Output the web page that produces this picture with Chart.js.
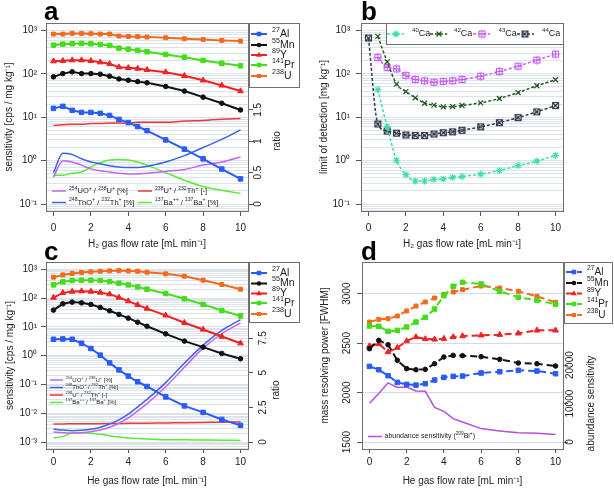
<!DOCTYPE html>
<html>
<head>
<meta charset="utf-8">
<script src="https://cdn.jsdelivr.net/npm/chart.js@4.4.0/dist/chart.umd.min.js"></script>
<style>
html, body { margin: 0; padding: 0; background: #fff; }
#wrap { position: relative; width: 614px; height: 490px; overflow: hidden; }
#wrap canvas { position: absolute; left: 0; top: 0; }
</style>
</head>
<body>
<div id="wrap">
<canvas id="ca" width="614" height="490"></canvas>
<canvas id="cb" width="614" height="490"></canvas>
<canvas id="cc" width="614" height="490"></canvas>
<canvas id="cd" width="614" height="490"></canvas>
</div>
<script>
// gas flow rates [mL/min], same for every panel
const flow = [0, 0.5, 1, 1.5, 2, 2.5, 3, 3.5, 4, 4.5, 5, 6, 7, 8, 9, 10];
const xTicks = [0, 2, 4, 6, 8, 10];

// a: H2 sensitivity [cps / mg kg-1]
const aAl = [16, 17.8, 14.4, 12.9, 12.9, 12.3, 11.0, 8.9, 7.5, 6.1, 4.9, 3.0, 1.84, 1.10, 0.64, 0.38];
const aMn = [85, 101, 111, 101, 101, 98, 88, 76, 71, 66, 62, 51, 40, 29, 21, 14.7];
const aY = [195, 199, 206, 206, 199, 185, 170, 142, 137, 132, 123, 109, 90, 71, 54, 40];
const aPr = [457, 482, 492, 500, 492, 474, 450, 390, 370, 345, 322, 279, 241, 203, 175, 153];
const aU = [822, 822, 852, 852, 838, 822, 822, 740, 726, 714, 701, 677, 642, 619, 587, 567];
// a: ratios (right axis)
const aUO = [0.43, 0.69, 0.67, 0.62, 0.56, 0.53, 0.51, 0.49, 0.48, 0.48, 0.49, 0.52, 0.55, 0.62, 0.67, 0.75];
const aThO = [0.50, 0.81, 0.79, 0.72, 0.67, 0.64, 0.61, 0.59, 0.58, 0.58, 0.60, 0.67, 0.77, 0.90, 1.03, 1.18];
const aUTh = [1.25, 1.26, 1.27, 1.27, 1.28, 1.28, 1.29, 1.29, 1.29, 1.30, 1.30, 1.30, 1.32, 1.33, 1.35, 1.36];
const aBa = [0.46, 0.46, 0.49, 0.51, 0.59, 0.66, 0.70, 0.71, 0.70, 0.67, 0.62, 0.50, 0.38, 0.28, 0.22, 0.17];

// b: limit of detection [mg kg-1]
const bCa40 = [null, 43, 6.0, 1.02, 0.475, 0.34, 0.34, 0.37, 0.38, 0.41, 0.43, 0.49, 0.59, 0.77, 0.97, 1.33];
const bCa42 = [null, 728, 189, 58, 39, 28, 21, 19, 17.3, 17.6, 18.6, 21.4, 27, 37, 53, 73];
const bCa43 = [null, 238, 140, 130, 92, 74, 69, 64, 67, 69, 74, 88, 113, 150, 207, 284];
const bCa44 = [666, 7.0, 4.8, 4.3, 3.9, 3.8, 3.8, 4.1, 4.4, 4.6, 5.0, 6.0, 7.5, 9.8, 13.3, 18.6];

// c: He sensitivity
const cAl = [3.7, 3.8, 3.7, 2.7, 1.77, 1.04, 0.56, 0.32, 0.195, 0.124, 0.085, 0.037, 0.018, 0.0107, 0.0061, 0.0038];
const cMn = [38, 63, 72, 68, 60, 47, 36, 27, 20, 14.5, 10.5, 5.7, 3.2, 1.97, 1.19, 0.78];
const cY = [104, 151, 168, 173, 168, 155, 136, 104, 78, 58, 43, 25, 13.8, 8.1, 4.6, 2.7];
const cPr = [286, 364, 405, 415, 415, 405, 373, 327, 286, 244, 202, 143, 94, 60, 37, 24];
const cU = [528, 636, 708, 766, 808, 852, 875, 899, 875, 852, 787, 689, 572, 415, 294, 202];
const cUO = [0.73, 0.68, 0.65, 0.68, 0.75, 0.87, 1.07, 1.36, 1.74, 2.25, 2.78, 4.0, 5.4, 6.78, 7.82, 8.6];
const cThO = [0.94, 0.87, 0.82, 0.85, 0.92, 1.07, 1.31, 1.60, 2.01, 2.54, 3.08, 4.29, 5.69, 7.0, 8.06, 8.84];
const cUTh = [1.31, 1.31, 1.32, 1.32, 1.33, 1.33, 1.34, 1.34, 1.35, 1.35, 1.36, 1.38, 1.40, 1.42, 1.44, 1.45];
const cBa = [0.31, 0.41, 0.65, 0.68, 0.63, 0.56, 0.46, 0.36, 0.29, 0.25, 0.22, 0.17, 0.16, 0.15, 0.14, 0.12];

// d: mass resolving power [FWHM] and abundance sensitivity
const dAl = [2265, 2231, 2171, 2103, 2083, 2076, 2090, 2127, 2154, 2164, 2167, 2198, 2211, 2225, 2218, 2191];
const dMn = [2444, 2528, 2484, 2326, 2242, 2231, 2235, 2292, 2360, 2376, 2373, 2363, 2336, 2299, 2292, 2269];
const dY = [2471, 2494, 2410, 2454, 2521, 2562, 2542, 2538, 2545, 2562, 2572, 2579, 2585, 2599, 2629, 2629];
const dPr = [2673, 2670, 2619, 2629, 2663, 2713, 2761, 2845, 2980, 3074, 3115, 3098, 3024, 2963, 2933, 2892];
const dU = [2713, 2740, 2747, 2774, 2825, 2875, 2916, 2956, 2993, 3017, 3040, 3077, 3057, 3024, 2973, 2912];
const dAbund = [10100, 12600, 15400, 14200, 14300, 13300, 13200, 9000, 8000, 6100, 5200, 3500, 2900, 2400, 2300, 2000];

const ratioTicksA = [0, 0.5, 1, 1.5];
const ratioTicksC = [0, 2.5, 5, 7.5];
const mrpTicks = [1500, 2000, 2500, 3000];
const abundTicks = [0, 10000, 20000];

const FONT = '"Liberation Sans", Arial, Helvetica, sans-serif';
const TXT = '#222';
const FRAME = '#707070';
const TICK = '#555';
const GRID = '#dbe2ec';
const C = {
    al: '#2a5cf5', mn: '#111111', y: '#f02222', pr: '#44dd1a', u: '#f26a1b',
    uo: '#c264f0', tho: '#3b62e0', uth: '#f03838', ba: '#55ee33',
    ca40: '#3fe0a8', ca42: '#1e5a1e', ca43: '#c560ee', ca44: '#2f3b4b', abund: '#b44ee6'
};

Chart.defaults.font.family = FONT;
Chart.defaults.color = TXT;

const supMap = { '-': '⁻', '0': '⁰', '1': '¹', '2': '²', '3': '³', '4': '⁴', '5': '⁵', '6': '⁶', '7': '⁷', '8': '⁸', '9': '⁹' };

function pts(arr) {
    return flow.map((x, i) => ({ x: x, y: arr[i] }));
}

// small text renderer for ^{sup} and _{sub}
function richText(ctx, s, x, y, size, color) {
    const parts = [];
    s.replace(/\^\{([^}]*)\}|_\{([^}]*)\}|([^\^_]+)/g, function(m, sup, sub, txt) {
        if (sup !== undefined) parts.push({ t: sup, f: size * 0.68, dy: -size * 0.38 });
        else if (sub !== undefined) parts.push({ t: sub, f: size * 0.68, dy: size * 0.25 });
        else parts.push({ t: txt, f: size, dy: 0 });
        return m;
    });
    ctx.fillStyle = color;
    ctx.textBaseline = 'middle';
    ctx.textAlign = 'left';
    let cx = x;
    parts.forEach(p => {
        ctx.font = p.f + 'px ' + FONT;
        ctx.fillText(p.t, cx, y + p.dy);
        cx += ctx.measureText(p.t).width;
    });
}

function vText(ctx, s, x, y, size) {
    ctx.save();
    ctx.translate(x, y);
    ctx.rotate(-Math.PI / 2);
    ctx.font = size + 'px ' + FONT;
    ctx.fillStyle = TXT;
    ctx.textAlign = 'center';
    ctx.textBaseline = 'middle';
    ctx.fillText(s, 0, 0);
    ctx.restore();
}

// square markers with plus / cross inside (pch 12 and 7)
function boxMark(color, kind) {
    const c = document.createElement('canvas');
    c.width = 9; c.height = 9;
    const g = c.getContext('2d');
    g.strokeStyle = color;
    g.lineWidth = 1.1;
    g.strokeRect(1.5, 1.5, 6, 6);
    g.beginPath();
    if (kind === 'plus') {
        g.moveTo(4.5, 0.5); g.lineTo(4.5, 8.5); g.moveTo(0.5, 4.5); g.lineTo(8.5, 4.5);
    } else {
        g.moveTo(1.5, 1.5); g.lineTo(7.5, 7.5); g.moveTo(7.5, 1.5); g.lineTo(1.5, 7.5);
    }
    g.stroke();
    return c;
}

function drawMark(ctx, style, x, y, r, color) {
    if (style instanceof HTMLCanvasElement) {
        ctx.drawImage(style, x - style.width / 2, y - style.height / 2);
        return;
    }
    ctx.save();
    ctx.fillStyle = color;
    ctx.strokeStyle = color;
    ctx.lineWidth = 1.2;
    ctx.beginPath();
    if (style === 'rect') {
        const s = r * Math.SQRT1_2;
        ctx.rect(x - s, y - s, 2 * s, 2 * s);
        ctx.fill();
    } else if (style === 'circle') {
        ctx.arc(x, y, r, 0, Math.PI * 2);
        ctx.fill();
    } else if (style === 'triangle') {
        for (let k = 0; k < 3; k++) {
            const a = k * 2 * Math.PI / 3;
            ctx.lineTo(x + Math.sin(a) * r, y - Math.cos(a) * r);
        }
        ctx.closePath();
        ctx.fill();
    } else {
        const d = r * Math.SQRT1_2;
        ctx.moveTo(x - d, y - d); ctx.lineTo(x + d, y + d);
        ctx.moveTo(x + d, y - d); ctx.lineTo(x - d, y + d);
        if (style === 'star') {
            ctx.moveTo(x, y - r); ctx.lineTo(x, y + r);
            ctx.moveTo(x - r, y); ctx.lineTo(x + r, y);
        }
        ctx.stroke();
    }
    ctx.restore();
}

function legendBox(ctx, x1, y1, x2, y2) {
    ctx.fillStyle = '#fff';
    ctx.fillRect(x1, y1, x2 - x1, y2 - y1);
    ctx.strokeStyle = FRAME;
    ctx.lineWidth = 1;
    ctx.strokeRect(x1 + 0.5, y1 + 0.5, x2 - x1, y2 - y1);
}

function legendItem(ctx, ds, x1, x2, y, tx, size, mx) {
    ctx.save();
    ctx.strokeStyle = ds.borderColor;
    ctx.lineWidth = ds.borderWidth;
    ctx.setLineDash(ds.borderDash || []);
    ctx.beginPath();
    ctx.moveTo(x1, y);
    ctx.lineTo(x2, y);
    ctx.stroke();
    ctx.setLineDash([]);
    if (ds.pointRadius > 0) {
        drawMark(ctx, ds.pointStyle, mx !== undefined ? mx : (x1 + x2) / 2, y, ds.pointRadius, ds.borderColor);
    }
    ctx.restore();
    richText(ctx, ds.legendText, tx, y, size, TXT);
}

function mainSet(label, rich, arr, color, style, r, extra) {
    return Object.assign({
        label: label,
        legendText: rich,
        data: pts(arr),
        yAxisID: 'y',
        borderColor: color,
        backgroundColor: color,
        pointBackgroundColor: color,
        pointBorderColor: color,
        pointStyle: style,
        pointRadius: r,
        pointBorderWidth: 1,
        borderWidth: 2,
        tension: 0
    }, extra || {});
}

function ratioSet(label, rich, arr, color) {
    return {
        label: label,
        legendText: rich,
        data: pts(arr),
        yAxisID: 'y1',
        borderColor: color,
        backgroundColor: color,
        pointRadius: 0,
        borderWidth: 1.5,
        cubicInterpolationMode: 'monotone'
    };
}

function decLabel(v) {
    const e = Math.log10(v);
    if (Math.abs(e - Math.round(e)) > 1e-9) return '';
    return '10' + String(Math.round(e)).split('').map(ch => supMap[ch]).join('');
}

function logTicks(min, max) {
    const out = [];
    for (let e = Math.floor(Math.log10(min)); e <= Math.ceil(Math.log10(max)); e++) {
        for (let m = 1; m <= 9; m++) {
            const v = m * Math.pow(10, e);
            if (v >= min && v <= max) out.push({ value: v, major: m === 1 });
        }
    }
    return out;
}

function xScale(o) {
    return {
        type: 'linear',
        min: -0.4,
        max: 10.4,
        afterBuildTicks: s => { s.ticks = xTicks.map(v => ({ value: v })); },
        afterFit: s => { s.height = o.h; },
        ticks: { autoSkip: false, maxRotation: 0, padding: o.pad, color: TXT, font: { size: 10 } },
        grid: { drawOnChartArea: false, tickLength: o.tl, tickColor: TICK },
        border: { display: false },
        title: { display: true, text: o.title, color: TXT, font: { size: 10 }, padding: { top: 0, bottom: 0 } }
    };
}

function logScale(o) {
    return {
        type: 'logarithmic',
        position: 'left',
        min: Math.pow(10, o.lo),
        max: Math.pow(10, o.hi),
        afterBuildTicks: s => { s.ticks = logTicks(s.min, s.max); },
        afterFit: s => { s.width = o.w; },
        ticks: { autoSkip: false, padding: o.pad, color: TXT, font: { size: 10 }, callback: v => decLabel(v) },
        grid: {
            color: GRID,
            tickLength: 5,
            tickColor: c => (c.tick && c.tick.major) ? TICK : 'rgba(0,0,0,0)'
        },
        border: { display: false },
        title: { display: true, text: o.title, color: TXT, font: { size: 10 }, padding: { top: o.tp, bottom: 0 } }
    };
}

function sideScale(o) {
    return {
        type: 'linear',
        position: o.pos,
        min: o.min,
        max: o.max,
        afterBuildTicks: s => { s.ticks = o.ticks.map(v => ({ value: v })); },
        afterFit: s => { s.width = o.w; },
        ticks: { display: false },
        grid: { drawOnChartArea: !!o.grid, color: '#cfdaee', tickLength: 5, tickColor: TICK },
        border: { display: false },
        title: o.title ? { display: true, text: o.title, color: TXT, font: { size: 10 }, padding: { top: o.tp, bottom: 0 } } : { display: false }
    };
}

// frame, panel letter, rotated axis labels and legends
function deco(o) {
    return {
        id: 'deco',
        afterDraw(chart) {
            const ctx = chart.ctx;
            const a = chart.chartArea;
            ctx.save();
            ctx.strokeStyle = FRAME;
            ctx.lineWidth = 1;
            ctx.strokeRect(Math.round(a.left) + 0.5, Math.round(a.top) + 0.5, Math.round(a.right - a.left), Math.round(a.bottom - a.top));
            ctx.fillStyle = '#000';
            ctx.font = 'bold 26px ' + FONT;
            ctx.textAlign = 'left';
            ctx.textBaseline = 'alphabetic';
            ctx.fillText(o.letter, o.lx, o.ly);
            (o.rot || []).forEach(r => {
                const sc = chart.scales[r.axis];
                const ys = r.values.map(v => sc.getPixelForValue(v));
                r.values.forEach((v, i) => vText(ctx, String(v), r.x, ys[i], 10));
                if (r.title) {
                    const ty = r.ty !== undefined ? r.ty : (Math.min.apply(null, ys) + Math.max.apply(null, ys)) / 2;
                    vText(ctx, r.title, r.tx, ty, 10);
                }
            });
            if (o.legend) o.legend(ctx, chart.data.datasets);
            ctx.restore();
        }
    };
}

function baseOptions(pad) {
    return {
        responsive: false,
        animation: false,
        devicePixelRatio: 1,
        events: [],
        layout: { padding: pad },
        plugins: { legend: { display: false }, tooltip: { enabled: false } }
    };
}

function rightBox(ctx, ds, x1, x2, top, bottom, rows, size) {
    legendBox(ctx, x1, top, x2, bottom);
    for (let i = 0; i < 5; i++) legendItem(ctx, ds[i], x1 + 2, x1 + 18, top + rows[i], x1 + 23, size);
}

// ---------- panel a ----------
new Chart(document.getElementById('ca'), {
    type: 'line',
    data: {
        datasets: [
            mainSet('²⁷Al', '^{27}Al', aAl, C.al, 'rect', 3.2),
            mainSet('⁵⁵Mn', '^{55}Mn', aMn, C.mn, 'circle', 2.3),
            mainSet('⁸⁹Y', '^{89}Y', aY, C.y, 'triangle', 3.3),
            mainSet('¹⁴¹Pr', '^{141}Pr', aPr, C.pr, 'rect', 3.2),
            mainSet('²³⁸U', '^{238}U', aU, C.u, 'rect', 2.8),
            ratioSet('²⁵⁴UO⁺ / ²³⁸U⁺ [%]', '^{254}UO^{+} / ^{238}U^{+} [%]', aUO, C.uo),
            ratioSet('²⁴⁸ThO⁺ / ²³²Th⁺ [%]', '^{248}ThO^{+} / ^{232}Th^{+} [%]', aThO, C.tho),
            ratioSet('²³⁸U⁺ / ²³²Th⁺ [-]', '^{238}U^{+} / ^{232}Th^{+} [-]', aUTh, C.uth),
            ratioSet('¹³⁷Ba⁺⁺ / ¹³⁷Ba⁺ [%]', '^{137}Ba^{++} / ^{137}Ba^{+} [%]', aBa, C.ba)
        ]
    },
    options: Object.assign(baseOptions({ left: 0, top: 23, right: 326, bottom: 240 }), {
        scales: {
            x: xScale({ h: 39, tl: 5, pad: 6, title: 'H₂ gas flow rate [mL min⁻¹]' }),
            y: logScale({ lo: -1.16, hi: 3.17, w: 46, pad: 4, tp: 3.5, title: 'sensitivity [cps / mg kg⁻¹]' }),
            y1: sideScale({ pos: 'right', min: -0.11, max: 2.88, ticks: ratioTicksA, w: 40 })
        }
    }),
    plugins: [deco({
        letter: 'a', lx: 44, ly: 20,
        rot: [{ axis: 'y1', values: ratioTicksA, x: 258, title: 'ratio', tx: 277, ty: 141 }],
        legend: (ctx, ds) => {
            rightBox(ctx, ds, 249, 299, 23, 87, [11, 22, 32, 42, 53], 10.5);
            legendItem(ctx, ds[5], 52, 66, 191, 69, 7.5);
            legendItem(ctx, ds[6], 52, 66, 202.5, 69, 7.5);
            legendItem(ctx, ds[7], 138, 152, 191, 155, 7.5);
            legendItem(ctx, ds[8], 138, 152, 202.5, 155, 7.5);
        }
    })]
});

// ---------- panel b ----------
const mark43 = boxMark(C.ca43, 'plus');
const mark44 = boxMark(C.ca44, 'cross');
function caSet(label, rich, arr, color, style, r) {
    return mainSet(label, rich, arr, color, style, r, {
        borderWidth: 1.5, borderDash: [3, 2], pointBorderWidth: 1.2, cubicInterpolationMode: 'monotone'
    });
}
new Chart(document.getElementById('cb'), {
    type: 'line',
    data: {
        datasets: [
            caSet('⁴⁰Ca', '^{40}Ca', bCa40, C.ca40, 'star', 3.5),
            caSet('⁴²Ca', '^{42}Ca', bCa42, C.ca42, 'crossRot', 3.5),
            caSet('⁴³Ca', '^{43}Ca', bCa43, C.ca43, mark43, 4),
            caSet('⁴⁴Ca', '^{44}Ca', bCa44, C.ca44, mark44, 4)
        ]
    },
    options: Object.assign(baseOptions({ left: 300, top: 23, right: 51, bottom: 240 }), {
        scales: {
            x: xScale({ h: 39, tl: 5, pad: 6, title: 'H₂ gas flow rate [mL min⁻¹]' }),
            y: logScale({ lo: -1.16, hi: 3.17, w: 61, pad: 6, tp: 18, title: 'limit of detection [mg kg⁻¹]' })
        }
    }),
    plugins: [deco({
        letter: 'b', lx: 361, ly: 20,
        legend: (ctx, ds) => {
            legendBox(ctx, 386, 23, 563, 44);
            legendItem(ctx, ds[0], 387, 404, 34, 412, 9, 396);
            legendItem(ctx, ds[1], 430, 447, 34, 454, 9, 439);
            legendItem(ctx, ds[2], 473, 490, 34, 498.5, 9, 482);
            legendItem(ctx, ds[3], 517, 534, 34, 542, 9, 525);
        }
    })]
});

// ---------- panel c ----------
new Chart(document.getElementById('cc'), {
    type: 'line',
    data: {
        datasets: [
            mainSet('²⁷Al', '^{27}Al', cAl, C.al, 'rect', 3.2),
            mainSet('⁵⁵Mn', '^{55}Mn', cMn, C.mn, 'circle', 2.3),
            mainSet('⁸⁹Y', '^{89}Y', cY, C.y, 'triangle', 3.3),
            mainSet('¹⁴¹Pr', '^{141}Pr', cPr, C.pr, 'rect', 3.2),
            mainSet('²³⁸U', '^{238}U', cU, C.u, 'rect', 2.8),
            ratioSet('²⁵⁴UO⁺ / ²³⁸U⁺ [%]', '^{254}UO^{+} / ^{238}U^{+} [%]', cUO, C.uo),
            ratioSet('²⁴⁸ThO⁺ / ²³²Th⁺ [%]', '^{248}ThO^{+} / ^{232}Th^{+} [%]', cThO, C.tho),
            ratioSet('²³⁸U⁺ / ²³²Th⁺ [-]', '^{238}U^{+} / ^{232}Th^{+} [-]', cUTh, C.uth),
            ratioSet('¹³⁷Ba⁺⁺ / ¹³⁷Ba⁺ [%]', '^{137}Ba^{++} / ^{137}Ba^{+} [%]', cBa, C.ba)
        ]
    },
    options: Object.assign(baseOptions({ left: 0, top: 262, right: 326, bottom: 3 }), {
        scales: {
            x: xScale({ h: 38, tl: 4, pad: 3, title: 'He gas flow rate [mL min⁻¹]' }),
            y: logScale({ lo: -3.24, hi: 3.25, w: 46, pad: 4, tp: 4, title: 'sensitivity [cps / mg kg⁻¹]' }),
            y1: sideScale({ pos: 'right', min: -0.5, max: 13.0, ticks: ratioTicksC, w: 40 })
        }
    }),
    plugins: [deco({
        letter: 'c', lx: 44, ly: 260,
        rot: [{ axis: 'y1', values: ratioTicksC, x: 263, title: 'ratio', tx: 276 }],
        legend: (ctx, ds) => {
            rightBox(ctx, ds, 249, 299, 262, 322, [11, 21.5, 31.5, 41, 52], 10.5);
            legendItem(ctx, ds[5], 50, 63, 380, 65.5, 6);
            legendItem(ctx, ds[6], 50, 63, 387.5, 65.5, 6);
            legendItem(ctx, ds[7], 50, 63, 395, 65.5, 6);
            legendItem(ctx, ds[8], 50, 63, 402.5, 65.5, 6);
        }
    })]
});

// ---------- panel d ----------
function mrpSet(label, rich, arr, color, style, r) {
    return mainSet(label, rich, arr, color, style, r, { borderDash: [7, 4] });
}
new Chart(document.getElementById('cd'), {
    type: 'line',
    data: {
        datasets: [
            mrpSet('²⁷Al', '^{27}Al', dAl, C.al, 'rect', 3.2),
            mrpSet('⁵⁵Mn', '^{55}Mn', dMn, C.mn, 'circle', 2.3),
            mrpSet('⁸⁹Y', '^{89}Y', dY, C.y, 'triangle', 3.3),
            mrpSet('¹⁴¹Pr', '^{141}Pr', dPr, C.pr, 'rect', 3.2),
            mrpSet('²³⁸U', '^{238}U', dU, C.u, 'rect', 2.8),
            {
                label: 'abundance sensitivity (²⁰⁹Bi⁺)',
                legendText: 'abundance sensitivity (^{209}Bi^{+})',
                data: pts(dAbund),
                yAxisID: 'y1',
                borderColor: C.abund,
                backgroundColor: C.abund,
                pointRadius: 0,
                borderWidth: 1.5,
                tension: 0
            }
        ]
    },
    options: Object.assign(baseOptions({ left: 300, top: 262, right: 21, bottom: 3 }), {
        scales: {
            x: xScale({ h: 38, tl: 4, pad: 3, title: 'He gas flow rate [mL min⁻¹]' }),
            y: sideScale({ pos: 'left', min: 1430, max: 3320, ticks: mrpTicks, w: 62, grid: true, tp: 19, title: 'mass resolving power [FWHM]' }),
            y1: sideScale({ pos: 'right', min: -1800, max: 46800, ticks: abundTicks, w: 30 })
        }
    }),
    plugins: [deco({
        letter: 'd', lx: 361, ly: 260,
        rot: [
            { axis: 'y', values: mrpTicks, x: 347 },
            { axis: 'y1', values: abundTicks, x: 570, title: 'abundance sensitivity', tx: 591.5 }
        ],
        legend: (ctx, ds) => {
            rightBox(ctx, ds, 564, 612, 262, 323, [10, 21, 31.5, 42, 53], 10);
            legendItem(ctx, ds[5], 368, 382, 436.5, 384.5, 7);
        }
    })]
});
</script>
</body>
</html>
